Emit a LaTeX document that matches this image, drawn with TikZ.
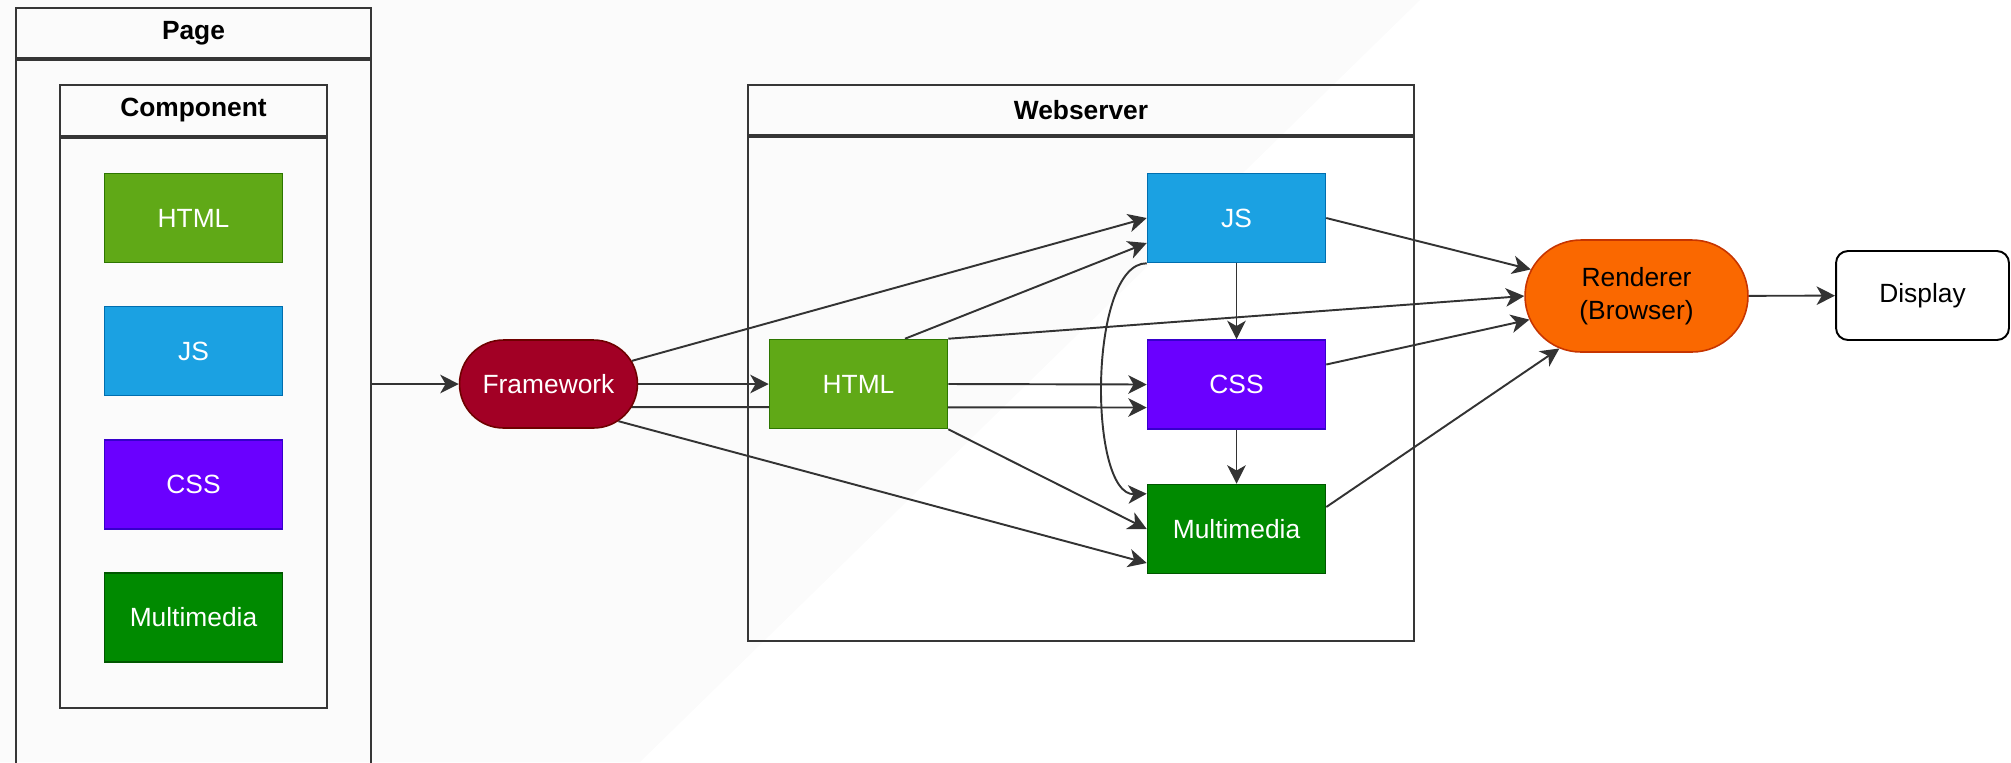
\documentclass[tikz,border=0pt]{standalone}
\usepackage{fontspec}
\setmainfont{Liberation Sans}
\usetikzlibrary{arrows.meta,shapes.misc}
\definecolor{edgegray}{HTML}{333333}
\definecolor{framegray}{HTML}{363636}
\definecolor{tint}{HTML}{FBFBFB}
\definecolor{htmlfill}{HTML}{60A917}
\definecolor{htmldraw}{HTML}{2D7600}
\definecolor{jsfill}{HTML}{1BA1E2}
\definecolor{jsdraw}{HTML}{006EAF}
\definecolor{cssfill}{HTML}{6A00FF}
\definecolor{cssdraw}{HTML}{3700CC}
\definecolor{mmfill}{HTML}{008A00}
\definecolor{mmdraw}{HTML}{005700}
\definecolor{fwfill}{HTML}{A20025}
\definecolor{fwdraw}{HTML}{6F0000}
\definecolor{rndfill}{HTML}{FA6800}
\definecolor{rnddraw}{HTML}{C73500}
\pgfdeclarelayer{bg}
\pgfsetlayers{bg,main}

\begin{document}
\begin{tikzpicture}[x=0.02cm, y=-0.02cm,
    font=\fontsize{15}{19}\selectfont,
    tile/.style={draw, line width=0.9pt, minimum width=3.56cm, minimum height=1.78cm, inner sep=0pt, text=white},
    htmltile/.style={tile, fill=htmlfill, draw=htmldraw},
    jstile/.style={tile, fill=jsfill, draw=jsdraw},
    csstile/.style={tile, fill=cssfill, draw=cssdraw},
    mmtile/.style={tile, fill=mmfill, draw=mmdraw},
    pill/.style={rounded rectangle, draw, line width=0.9pt, inner sep=0pt},
    lane/.style={draw=framegray, line width=1.1pt, inner sep=0pt},
    lanehead/.style={lane, minimum height=1.01cm, font=\fontsize{15}{19}\selectfont\bfseries},
    arr/.style={draw=edgegray, line width=1.1pt, -{Stealth[length=10.5pt, width=10.5pt, inset=3pt, fill=edgegray]}},
  ]
    \useasboundingbox (0,0) rectangle (2011,762);

    \node[lanehead, minimum width=7.1cm] (pagehd) at (193.5,33) {Page};
    \node[lane, minimum width=7.1cm, minimum height=14.4cm, anchor=north] (page) at (pagehd.south) {};
    \node[lanehead, minimum width=5.34cm] (comphd) at (193.5,110.5) {Component};
    \node[lane, minimum width=5.34cm, minimum height=11.4cm, anchor=north] (comp) at (comphd.south) {};
    \node[htmltile] (chtml) at (193.5,218) {HTML};
    \node[jstile] (cjs) at (193.5,351) {JS};
    \node[csstile] (ccss) at (193.5,484.5) {CSS};
    \node[mmtile] (cmm) at (193.5,617.5) {Multimedia};

    \node[pill, fill=fwfill, draw=fwdraw, text=white, minimum width=3.56cm, minimum height=1.76cm] (fw) at (548.5,384) {Framework};

    \node[lanehead, minimum width=13.32cm] (webhd) at (1081,110) {Webserver};
    \node[lane, minimum width=13.32cm, minimum height=10.08cm, anchor=north] (web) at (webhd.south) {};
    \node[htmltile] (whtml) at (858.5,384) {HTML};
    \node[jstile] (wjs) at (1236.5,218) {JS};
    \node[csstile] (wcss) at (1236.5,384.5) {CSS};
    \node[mmtile] (wmm) at (1236.5,529) {Multimedia};

    \node[pill, fill=rndfill, draw=rnddraw, align=center, minimum width=4.46cm, minimum height=2.24cm] (rnd) at (1636.5,296) {Renderer\\(Browser)};
    \node[draw, line width=1.1pt, rounded corners=0.24cm, minimum width=3.46cm, minimum height=1.78cm] (disp) at (1922.5,295.5) {Display};

    \begin{pgfonlayer}{bg}
    \fill[tint] (0,0) -- (1420,0) -- (640,762) -- (0,762) -- cycle;
    \draw[arr] (page.east |- fw.west) -- (fw.west);
    \draw[arr] (fw.east) -- (whtml.west);
    \draw[arr] (fw) -- (wjs.west);
    \draw[arr] ([yshift=-0.46cm]fw.center) -- ([yshift=-0.46cm]wcss.west);
    \draw[arr] (fw.-28) -- ([yshift=-0.68cm]wmm.west);
    \draw[arr] ([xshift=0.93cm]whtml.north) -- ([yshift=-0.5cm]wjs.west);
    \draw[arr] (whtml.north east) -- (rnd.west);
    \draw[arr] (whtml.east) -- (wcss.west);
    \draw[arr] (whtml.south east) -- (wmm.west);
    \draw[arr] (wjs) -- (wcss);
    \draw[arr] (wcss) -- (wmm);
    \draw[arr] (wjs.south west) .. controls (1088,263) and (1088,496) .. ([yshift=-0.2cm]wmm.north west);
    \draw[arr] (wjs.east) -- (rnd);
    \draw[arr] ([yshift=0.4cm]wcss.east) -- (rnd);
    \draw[arr] ([yshift=0.44cm]wmm.east) -- (rnd);
    \draw[arr] (rnd) -- (disp);
    \end{pgfonlayer}
\end{tikzpicture}
\end{document}
